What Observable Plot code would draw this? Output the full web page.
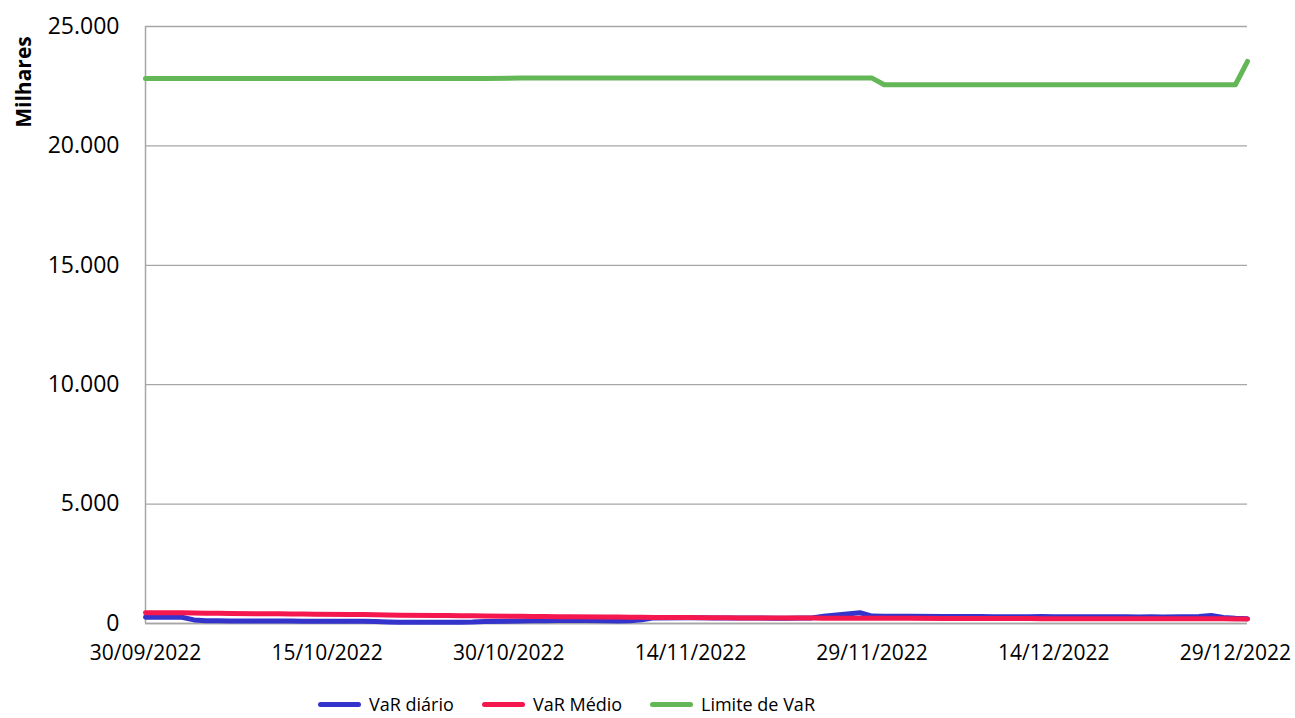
<!DOCTYPE html>
<html>
<head>
<meta charset="utf-8">
<script src="https://cdn.jsdelivr.net/npm/d3@7"></script>
<script src="https://cdn.jsdelivr.net/npm/@observablehq/plot@0.6"></script>
<style>
  html, body { margin: 0; padding: 0; background: #fff; }
  #wrap { position: relative; width: 1295px; height: 718px; font-family: 'Open Sans', sans-serif; }
  .item { position: absolute; top: 692px; display: flex; align-items: center; font-size: 18px; color: #000; white-space: nowrap; }
  .sw { width: 43px; height: 5px; border-radius: 3px; margin-right: 8px; }
  #ylab { position: absolute; left: 23px; top: 82px; transform: translate(-50%, -50%) rotate(-90deg); font-weight: bold; font-size: 21px; color: #000; white-space: nowrap; }
</style>
</head>
<body>
<div id="wrap"></div>
<script>
const dates = [
  "2022-09-30",
  "2022-10-03","2022-10-04","2022-10-05","2022-10-06","2022-10-07",
  "2022-10-10","2022-10-11","2022-10-12","2022-10-13","2022-10-14",
  "2022-10-17","2022-10-18","2022-10-19","2022-10-20","2022-10-21",
  "2022-10-24","2022-10-25","2022-10-26","2022-10-27","2022-10-28",
  "2022-10-31","2022-11-01","2022-11-02","2022-11-03","2022-11-04",
  "2022-11-07","2022-11-08","2022-11-09","2022-11-10","2022-11-11",
  "2022-11-14","2022-11-15","2022-11-16","2022-11-17","2022-11-18",
  "2022-11-21","2022-11-22","2022-11-23","2022-11-24","2022-11-25",
  "2022-11-28","2022-11-29","2022-11-30","2022-12-01","2022-12-02",
  "2022-12-05","2022-12-06","2022-12-07","2022-12-08","2022-12-09",
  "2022-12-12","2022-12-13","2022-12-14","2022-12-15","2022-12-16",
  "2022-12-19","2022-12-20","2022-12-21","2022-12-22","2022-12-23",
  "2022-12-26","2022-12-27","2022-12-28","2022-12-29","2022-12-30"
];
const varDiario = [
  265,
  260,150,115,110,105,
  105,100,100,95,95,
  95,90,85,65,55,
  50,55,50,60,85,
  100,110,115,125,135,
  115,105,110,160,235,
  245,240,235,230,230,
  225,225,230,235,300,
  450,310,305,305,300,
  295,295,290,290,285,
  285,290,285,280,280,
  285,280,275,280,275,
  290,340,250,215,200
];
const varMedio = [
  450,
  445,440,430,425,420,
  410,405,400,395,390,
  380,375,365,355,350,
  340,335,325,320,310,
  300,295,290,285,280,
  275,270,265,260,255,
  250,245,240,238,235,
  232,230,228,226,225,
  225,222,220,218,215,
  213,212,210,208,207,
  205,204,203,202,201,
  200,199,198,197,196,
  195,195,194,193,192
];
const limiteVaR = [
  22820,
  22820,22820,22820,22820,22820,
  22820,22820,22820,22820,22820,
  22820,22820,22820,22820,22820,
  22820,22820,22820,22820,22820,
  22840,22840,22840,22840,22840,
  22840,22840,22840,22840,22840,
  22840,22840,22840,22840,22840,
  22840,22840,22840,22840,22840,
  22840,22840,22560,22560,22560,
  22560,22560,22560,22560,22560,
  22560,22560,22560,22560,22560,
  22560,22560,22560,22560,22560,
  22560,22560,22560,22560,23540
];
const seriesNames = ["VaR diário", "VaR Médio", "Limite de VaR"];
const seriesColors = ["#3434CC", "#F4184F", "#64B757"];
const xTickDates = ["2022-09-30","2022-10-15","2022-10-30","2022-11-14","2022-11-29","2022-12-14","2022-12-29"];
const xTickLabels = ["30/09/2022","15/10/2022","30/10/2022","14/11/2022","29/11/2022","14/12/2022","29/12/2022"];
const yTicks = [0, 5000, 10000, 15000, 20000, 25000];
const yTickLabels = ["0", "5.000", "10.000", "15.000", "20.000", "25.000"];
const yLabel = "Milhares";

const parse = d3.utcParse("%Y-%m-%d");
const allSeries = [varDiario, varMedio, limiteVaR];
const rows = seriesNames.map((name, si) =>
  dates.map((d, i) => ({series: name, date: parse(d), value: allSeries[si][i]}))
);
const xTicks = xTickDates.map(parse);
const gridColor = "#a6a6a6";

const chart = Plot.plot({
  width: 1295,
  height: 680,
  marginLeft: 145,
  marginRight: 48,
  marginTop: 26,
  marginBottom: 57,
  style: {fontFamily: "'Open Sans', sans-serif", fontSize: "21px", color: "#000", background: "#fff"},
  x: {type: "utc", domain: [parse("2022-09-30"), parse("2022-12-30")]},
  y: {domain: [0, 25000]},
  marks: [
    Plot.gridY(yTicks, {stroke: gridColor, strokeOpacity: 1, strokeWidth: 1.3}),
    Plot.axisY(yTicks, {tickSize: 0, tickPadding: 26, tickFormat: (d) => yTickLabels[yTicks.indexOf(d)], label: null, fontSize: 23}),
    Plot.axisX(xTicks, {tickSize: 0, tickPadding: 22, tickFormat: (d) => xTickLabels[xTicks.findIndex(t => +t === +d)], label: null, fontSize: 21}),
    Plot.ruleX([parse("2022-09-30")], {stroke: gridColor, strokeWidth: 1.5}),
    Plot.ruleY([0], {stroke: gridColor, strokeWidth: 1.5}),
    ...rows.map((r, si) => Plot.line(r, {x: "date", y: "value", stroke: seriesColors[si], strokeWidth: 5, strokeLinecap: "round", strokeLinejoin: "round"}))
  ]
});

const wrap = document.getElementById("wrap");
wrap.appendChild(chart);
const yl = document.createElement("div");
yl.id = "ylab";
yl.textContent = yLabel;
wrap.appendChild(yl);
const legendLefts = [318, 482, 650];
seriesNames.forEach((name, i) => {
  const item = document.createElement("div");
  item.className = "item";
  item.style.left = legendLefts[i] + "px";
  const sw = document.createElement("div");
  sw.className = "sw";
  sw.style.background = seriesColors[i];
  const t = document.createElement("span");
  t.textContent = name;
  item.appendChild(sw);
  item.appendChild(t);
  wrap.appendChild(item);
});
</script>
</body>
</html>
